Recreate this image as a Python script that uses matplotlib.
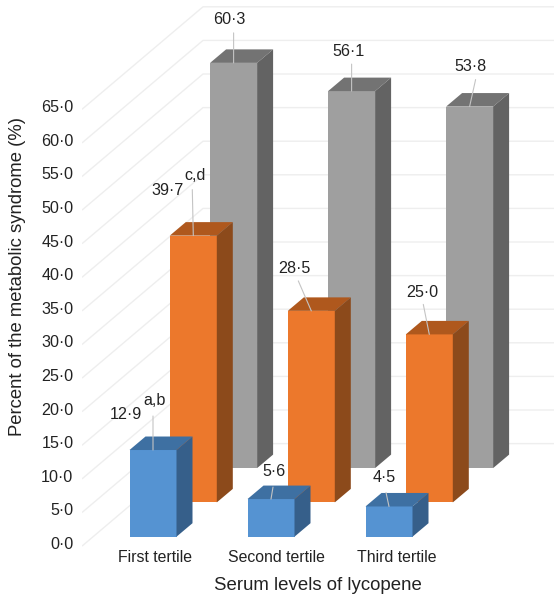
import matplotlib
matplotlib.use("Agg")
import matplotlib.pyplot as plt
import numpy as np
from matplotlib.patches import Polygon

plt.rcParams['font.family'] = ['Liberation Sans', 'DejaVu Sans']

categories = ["First tertile", "Second tertile", "Third tertile"]
first_series = [12.9, 5.6, 4.5]
second_series = [39.7, 28.5, 25.0]
third_series = [60.3, 56.1, 53.8]
value_labels = [["12·9", "5·6", "4·5"], ["39·7", "28·5", "25·0"], ["60·3", "56·1", "53·8"]]
y_ticks = [0, 5, 10, 15, 20, 25, 30, 35, 40, 45, 50, 55, 60, 65]
y_tick_labels = ["0·0", "5·0", "10·0", "15·0", "20·0", "25·0", "30·0",
                 "35·0", "40·0", "45·0", "50·0", "55·0", "60·0", "65·0"]

W, H = 554, 598
fig = plt.figure(figsize=(W / 100, H / 100), dpi=100)
# axes box in pixels: x 82-554, y 6-547
ax = fig.add_axes([82 / W, (H - 547) / H, 472 / W, 541 / H])

x_unit = 118.0  # px per category
y_unit = 6.72   # px per value unit
ax.set_xlim((82 - 153.0) / x_unit, (554 - 153.0) / x_unit)
ax.set_ylim(-(547 - 536.7) / y_unit, (536.7 - 6) / y_unit)

bar_w = 47 / x_unit
row_dx, row_dy = 40.3 / x_unit, 34.3 / y_unit   # shift between series rows
side_dx, side_dy = 16 / x_unit, 13.5 / y_unit   # bar depth
wall_dx, wall_dy = 121 / x_unit, 102.5 / y_unit   # floor depth

# gridlines: diagonal on the side wall, then flat on the back wall
x0 = ax.get_xlim()[0]
x1 = ax.get_xlim()[1]
for t in y_ticks:
    v = t - 1.4
    ax.plot([x0, x0 + wall_dx, x1], [v, v + wall_dy, v + wall_dy],
            color="#eeeeee", lw=1.0, zorder=1, solid_capstyle="butt")

series = [third_series, second_series, first_series]
rows = [2, 1, 0]
front_cols = ["#9f9f9f", "#ec782c", "#5593d2"]
top_cols = ["#737373", "#af581d", "#3e70a2"]
side_cols = ["#636363", "#8c4a1b", "#365f8a"]

# text offsets from the top front edge of each bar, in pixels
label_off = {0: [(-27, 36), (3, 28), (-5, 29)],
             1: [(-26, 45), (-17, 42), (-7, 42)],
             2: [(-4, 43), (-3, 40), (1, 40)]}
lead_off = {0: [(0, 34), (2, 12), (-3, 14)],
            1: [(-1, 46), (-13, 30), (-6, 30)],
            2: [(0, 30), (0, 27), (6, 27)]}

z = 2
for vals, row, fc, tc, sc in zip(series, rows, front_cols, top_cols, side_cols):
    for i, val in enumerate(vals):
        left = i - bar_w / 2 + row * row_dx
        right = left + bar_w
        base = row * row_dy
        top = base + val
        ax.add_patch(Polygon([(left, base), (right, base), (right, top), (left, top)],
                             facecolor=fc, edgecolor="none", zorder=z))
        ax.add_patch(Polygon([(left, top), (right, top), (right + side_dx, top + side_dy),
                              (left + side_dx, top + side_dy)],
                             facecolor=tc, edgecolor="none", zorder=z))
        ax.add_patch(Polygon([(right, base), (right + side_dx, base + side_dy),
                              (right + side_dx, top + side_dy), (right, top)],
                             facecolor=sc, edgecolor="none", zorder=z))
        anchor = ((left + right) / 2, top)
        ax.annotate("", xy=anchor, xytext=lead_off[row][i], textcoords="offset pixels",
                    arrowprops=dict(arrowstyle="-", color="#c4c4c4", lw=0.8,
                                    shrinkA=0, shrinkB=0), zorder=z + 1)
        ax.annotate(value_labels[row][i], xy=anchor, xytext=label_off[row][i],
                    textcoords="offset pixels", ha="center", va="center",
                    fontsize=11.6, color="#222222", zorder=z + 1)
    z += 2

# superscript letters
ax.annotate("a,b", xy=(0, first_series[0]), xytext=(2, 50), textcoords="offset pixels",
            ha="center", va="center", fontsize=11.6, color="#222222", zorder=10)
ax.annotate("c,d", xy=(row_dx, row_dy + second_series[0]), xytext=(2, 60), textcoords="offset pixels",
            ha="center", va="center", fontsize=11.6, color="#222222", zorder=10)

ax.set_yticks(np.array(y_ticks) - 0.94, y_tick_labels)
ax.set_xticks([0.017, 1.042, 2.067], categories)
ax.tick_params(axis="y", length=0, pad=8.5 * 0.72, labelsize=11.6, labelcolor="#222222")
ax.tick_params(axis="x", length=0, pad=2.5, labelsize=11.4, labelcolor="#222222")
ax.set_xlabel("Serum levels of lycopene", fontsize=13.4, color="#222222", va="center")
ax.set_ylabel("Percent of the metabolic syndrome (%)", fontsize=13.3, color="#222222", va="center")
ax.xaxis.set_label_coords((318 - 82) / 472, -(585 - 547) / 541)
ax.yaxis.set_label_coords((18 - 82) / 472, (547 - 276.5) / 541)
for s in ax.spines.values():
    s.set_visible(False)

fig.savefig("out.png", dpi=100)
